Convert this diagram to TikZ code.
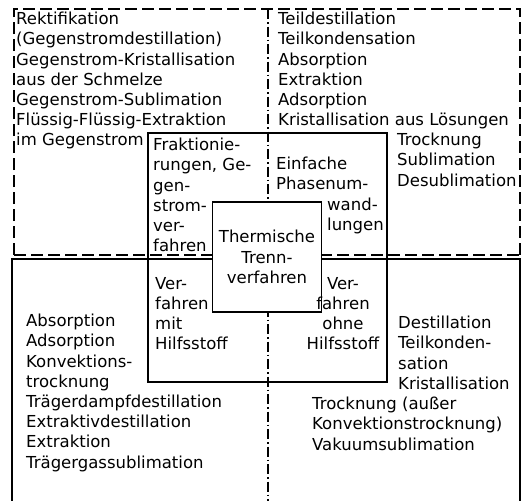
\documentclass[tikz,border=0pt]{standalone}
\usepackage{fontspec}
\setmainfont{DejaVu Sans}
\usepackage{tikz}
\usetikzlibrary{positioning}

\tikzset{
  field/.style={align=left, inner sep=0pt, anchor=north west, font=\fontsize{16.5}{20.2}\selectfont},
  rim/.style={line width=1.1pt, dash pattern=on 12pt off 5pt},
  axis/.style={line width=1.1pt, dash pattern=on 10pt off 3pt on 1.5pt off 3pt},
  frame/.style={line width=1.2pt},
}

\begin{document}
\begin{tikzpicture}[x=1pt, y=-1pt]
    \useasboundingbox (0,0) rectangle (523,501);

    % Upper fields (dashed)
    \draw[rim] (14,255) -- (14,9) -- (520,9) -- (520,255);
    \draw[rim] (14,255) -- (520,255);

    % Lower fields (solid)
    \draw[frame] (12,501) -- (12,259) -- (520,259) -- (520,501);

    % Centre axis
    \draw[axis] (268,9) -- (268,501);

    % Inner fields
    \draw[frame] (148,133) rectangle (387,382);

    % Centre box
    \node[draw, frame, fill=white, minimum width=109pt, minimum height=110pt, align=center,
          font=\fontsize{16.5}{20.2}\selectfont] (thermal) at (267,257) {Thermische\\Trenn-\\verfahren};

    % Upper left
    \node[field] (counter) at (16,12) {Rektifikation\\(Gegenstromdestillation)\\Gegenstrom-Kristallisation\\aus der Schmelze\\Gegenstrom-Sublimation\\Flüssig-Flüssig-Extraktion\\im Gegenstrom};
    \node[field] (fract) at (153,138) {Fraktionie-\\rungen, Ge-\\gen-\\strom-\\ver-\\fahren};

    % Upper right
    \node[field] (partial) at (278,12) {Teildestillation\\Teilkondensation\\Absorption\\Extraktion\\Adsorption\\Kristallisation aus Lösungen};
    \node[field] (dry) at (397,133) {Trocknung\\Sublimation\\Desublimation};
    \node[field] (simple) at (276,157) {Einfache\\Phasenum-};
    \node[field] (change) at (327,198) {wand-\\lungen};

    % Lower left
    \node[field] (with) at (155,277) {Ver-\\fahren\\mit\\Hilfsstoff};
    \node[field] (aux) at (26,314) {Absorption\\Adsorption\\Konvektions-\\trocknung\\Trägerdampfdestillation\\Extraktivdestillation\\Extraktion\\Trägergassublimation};

    % Lower right
    \node[field, align=center, anchor=north] (without) at (343,277) {Ver-\\fahren\\ohne\\Hilfsstoff};
    \node[field] (plain) at (398,316) {Destillation\\Teilkonden-\\sation\\Kristallisation};
    \node[field] (vacuum) at (312,397) {Trocknung (außer\\Konvektionstrocknung)\\Vakuumsublimation};
\end{tikzpicture}
\end{document}
